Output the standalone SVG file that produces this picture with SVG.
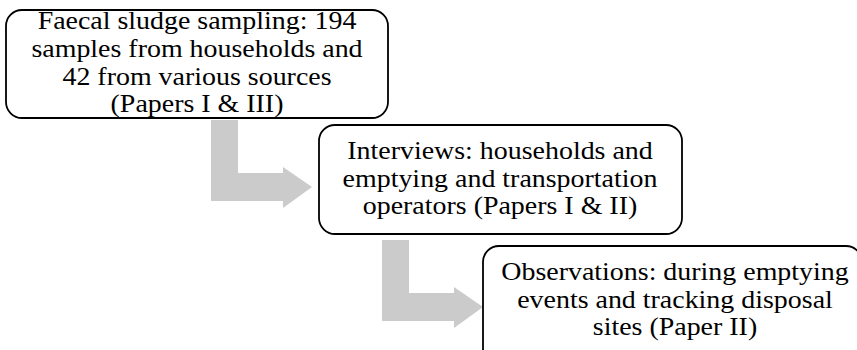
<svg xmlns="http://www.w3.org/2000/svg" width="857" height="350" viewBox="0 0 857 350">
<style>
.box{fill:#fff;stroke:#000;stroke-width:1.8}
.t{font-family:"Liberation Serif","Times New Roman",serif;font-size:24.5px;fill:#000;text-anchor:middle}
.arr{fill:#cbcbcb;stroke:none}
</style>
<rect width="857" height="350" fill="#fff"/>
<g id="connectors">
<path id="arrow1" class="arr" d="M211,120 H238 V173 H283 V167 L312,187 L283,208 V201 H211 Z"/>
<path id="arrow2" class="arr" transform="translate(171,120)" d="M211,120 H238 V173 H283 V167 L312,187 L283,208 V201 H211 Z"/>
</g>
<g id="node1">
<rect class="box" x="6" y="10" width="382" height="108" rx="16" ry="16"/>
<g transform="translate(197,0) scale(1.14,1)">
<text class="t" x="0" y="29">Faecal sludge sampling: 194</text>
<text class="t" x="0" y="57">samples from households and</text>
<text class="t" x="0" y="85">42 from various sources</text>
<text class="t" x="0" y="112">(Papers I &amp; III)</text>
</g>
</g>
<g id="node2">
<rect class="box" x="319" y="125" width="363" height="109" rx="16" ry="16"/>
<g transform="translate(500,0) scale(1.14,1)">
<text class="t" x="0" y="159">Interviews: households and</text>
<text class="t" x="0" y="187">emptying and transportation</text>
<text class="t" x="0" y="214">operators (Papers I &amp; II)</text>
</g>
</g>
<g id="node3">
<rect class="box" x="483" y="246" width="379" height="120" rx="16" ry="16"/>
<g transform="translate(675,0) scale(1.14,1)">
<text class="t" x="0" y="280">Observations: during emptying</text>
<text class="t" x="0" y="308">events and tracking disposal</text>
<text class="t" x="0" y="335">sites (Paper II)</text>
</g>
</g>
</svg>
